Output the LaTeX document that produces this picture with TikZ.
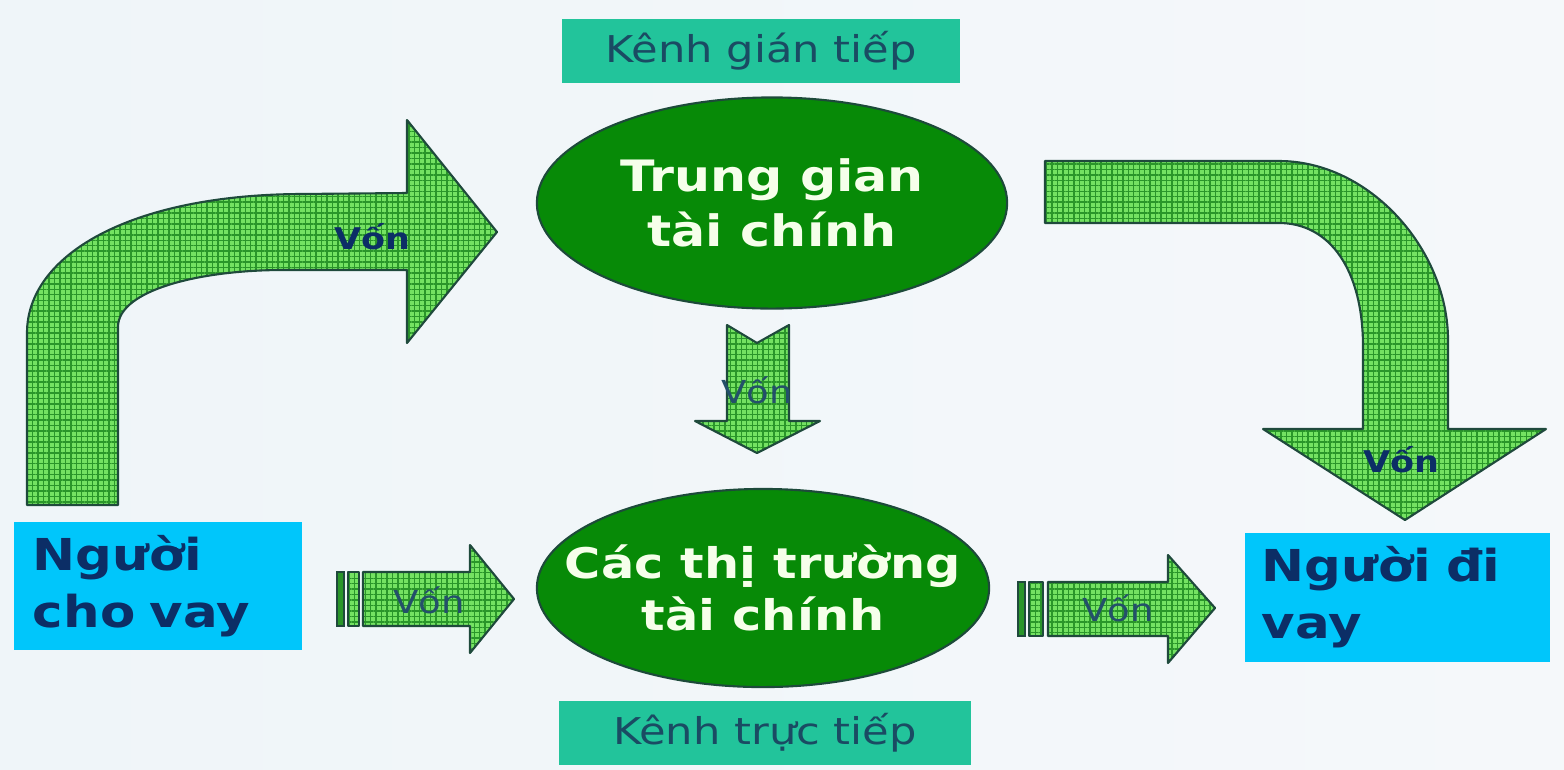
\documentclass[tikz,border=0pt]{standalone}
\usepackage{fontspec}
\setmainfont{DejaVu Sans}[FakeStretch=1.17]
\usetikzlibrary{shapes.geometric, patterns.meta}
\usepackage{xcolor}

\definecolor{bgleft}{HTML}{EFF5F9}
\definecolor{bgright}{HTML}{F5F8FA}
\definecolor{chanteal}{HTML}{22C49B}
\definecolor{chantext}{HTML}{1A4B63}
\definecolor{personcyan}{HTML}{00C6FB}
\definecolor{navy}{HTML}{0C2E66}
\definecolor{ellgreen}{HTML}{078A07}
\definecolor{ellline}{HTML}{1D4A3A}
\definecolor{ellwhite}{HTML}{F6FFEA}
\definecolor{arrowfill}{HTML}{74E262}
\definecolor{arrowgrid}{HTML}{2A962A}
\definecolor{arrowline}{HTML}{1F4A3C}
\definecolor{vontext}{HTML}{24506A}

\tikzset{
  blockarrow/.style={draw=arrowline, line width=0.6pt, line join=round, preaction={fill=arrowfill},
    pattern={Hatch[angle=0,distance=1.55pt,line width=0.4pt]}, pattern color=arrowgrid},
  stripe/.style={draw=arrowline, line width=0.5pt, fill=arrowgrid},
  person/.style={fill=personcyan, text=navy, font=\bfseries\fontsize{12.5}{16.2}\selectfont,
    align=left, inner sep=0pt},
  channel/.style={fill=chanteal, text=chantext, font=\fontsize{10.5}{12}\selectfont, inner sep=0pt},
  oval/.style={ellipse, draw=ellline, line width=0.6pt, fill=ellgreen, text=ellwhite,
    align=center, inner ysep=0pt, inner xsep=-0.7cm},
  vonbold/.style={text=navy, font=\bfseries\fontsize{8.5}{10}\selectfont},
  von/.style={text=vontext, font=\fontsize{9}{10}\selectfont}
}

\begin{document}
\begin{tikzpicture}[x=0.01cm, y=-0.01cm]
  \useasboundingbox (0,0) rectangle (1564,769);
  \shade[left color=bgleft, right color=bgright] (0,0) rectangle (1564,769);

  \node[channel, minimum width=3.98cm, minimum height=0.64cm] (indirect) at (761,51) {Kênh gián tiếp};
  \node[channel, minimum width=4.12cm, minimum height=0.64cm] (direct) at (765,733) {Kênh trực tiếp};

  \node[oval, minimum width=4.70cm, minimum height=2.11cm,
        font=\bfseries\fontsize{12.3}{15.6}\selectfont] (interm) at (772,203) {Trung gian\\tài chính};
  \node[oval, minimum width=4.52cm, minimum height=1.98cm,
        font=\bfseries\fontsize{12}{15}\selectfont] (market) at (763,588) {Các thị trường\\tài chính};

  \node[person, minimum width=2.88cm, minimum height=1.28cm, text width=2.50cm] (lender) at (158,586) {Người\\cho vay};
  \node[person, minimum width=3.05cm, minimum height=1.29cm, text width=2.71cm] (borrower) at (1397.5,597.5) {Người đi\\vay};

  % big curved arrows
  \path[blockarrow] (27,505) -- (27,333) .. controls (27,255) and (130,195) .. (300,194) -- (407,193)
    -- (407,120) -- (497,232) -- (407,343) -- (407,270) -- (283,270)
    .. controls (200,270) and (118,290) .. (118,327) -- (118,505) -- cycle;
  \path[blockarrow] (1045,161) -- (1279,161) .. controls (1370,161) and (1448,250) .. (1448,340)
    -- (1448,429) -- (1546,429) -- (1405,520) -- (1263,429) -- (1363,429) -- (1363,347)
    .. controls (1363,270) and (1330,223) .. (1279,223) -- (1045,223) -- cycle;

  % notched arrow down
  \path[blockarrow] (727,325) -- (757,343) -- (789,325) -- (789,421) -- (820,421)
    -- (757,453) -- (695,421) -- (727,421) -- cycle;

  % striped arrows
  \path[blockarrow] (363,572) -- (470,572) -- (470,545) -- (514,599) -- (470,653)
    -- (470,626) -- (363,626) -- cycle;
  \draw[stripe] (337,572) rectangle (344,626);
  \path[blockarrow] (348,572) rectangle (359,626);
  \path[blockarrow] (1048,582) -- (1168,582) -- (1168,555) -- (1215,608) -- (1168,663)
    -- (1168,636) -- (1048,636) -- cycle;
  \draw[stripe] (1018,582) rectangle (1025,636);
  \path[blockarrow] (1029,582) rectangle (1043,636);

  \node[vonbold] (v1) at (372,237) {Vốn};
  \node[vonbold] (v2) at (1401,460) {Vốn};
  \node[von] (v3) at (757,390) {Vốn};
  \node[von] (v4) at (429,600) {Vốn};
  \node[von] (v5) at (1118,608) {Vốn};
\end{tikzpicture}
\end{document}
